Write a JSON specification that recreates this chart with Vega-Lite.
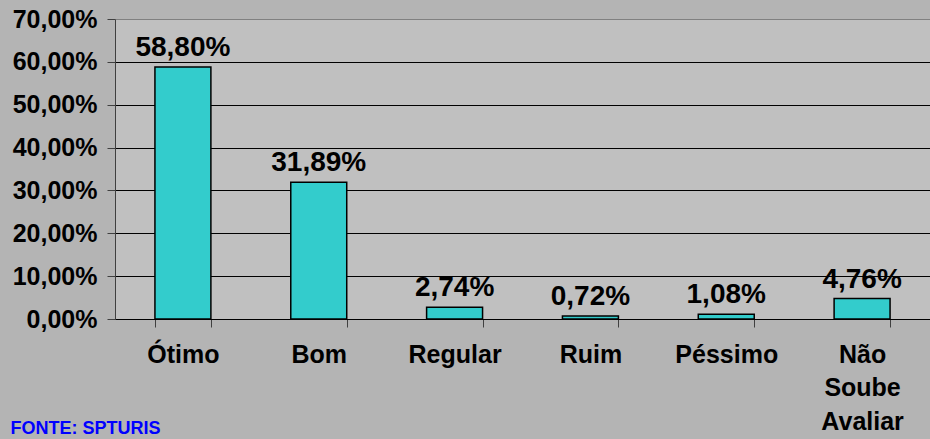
{
  "$schema": "https://vega.github.io/schema/vega-lite/v6.json",
  "width": 815,
  "height": 300,
  "autosize": {"type": "none"},
  "padding": {"left": 115, "top": 19, "right": 0, "bottom": 120},
  "background": "#b4b4b4",
  "config": {
    "locale": {"number": {"decimal": ",", "thousands": ".", "grouping": [3], "currency": ["R$", ""]}},
    "view": {"fill": "#c0c0c0", "stroke": null},
    "font": "Liberation Sans"
  },
  "data": {
    "values": [
      {"categoria": "Ótimo", "valor": 0.588},
      {"categoria": "Bom", "valor": 0.3189},
      {"categoria": "Regular", "valor": 0.0274},
      {"categoria": "Ruim", "valor": 0.0072},
      {"categoria": "Péssimo", "valor": 0.0108},
      {"categoria": "Não Soube Avaliar", "valor": 0.0476}
    ]
  },
  "encoding": {
    "x": {
      "field": "categoria",
      "type": "nominal",
      "sort": null,
      "scale": {"paddingInner": 0.588, "paddingOuter": 0.294},
      "axis": {
        "labelAngle": 0,
        "labelFontSize": 25,
        "labelFontWeight": "bold",
        "labelColor": "black",
        "labelLineHeight": 33.5,
        "labelPadding": 15,
        "labelExpr": "datum.label == 'Não Soube Avaliar' ? ['Não', 'Soube', 'Avaliar'] : datum.label",
        "tickBand": "extent",
        "tickSize": 8,
        "tickColor": "#404040",
        "domainColor": "black",
        "grid": false,
        "title": "FONTE: SPTURIS",
        "titleColor": "#0000FF",
        "titleFontSize": 18,
        "titleFontWeight": "bold",
        "titleX": -105,
        "titleY": 114,
        "titleAlign": "left",
        "titleBaseline": "alphabetic"
      }
    }
  },
  "layer": [
    {
      "mark": {"type": "bar", "fill": "#33CCCC", "stroke": "black", "strokeWidth": 1.5},
      "encoding": {
        "y": {
          "field": "valor",
          "type": "quantitative",
          "scale": {"domain": [0, 0.7]},
          "axis": {
            "values": [0, 0.1, 0.2, 0.3, 0.4, 0.5, 0.6, 0.7],
            "format": ".2%",
            "labelFontSize": 25,
            "labelFontWeight": "bold",
            "labelColor": "black",
            "labelPadding": 10,
            "tickSize": 8,
            "tickColor": "#404040",
            "domainColor": "#404040",
            "grid": true,
            "gridColor": {"condition": {"test": "datum.value >= 0.69", "value": "#808080"}, "value": "black"},
            "gridOpacity": 1,
            "title": null
          }
        }
      }
    },
    {
      "mark": {"type": "text", "baseline": "alphabetic", "dy": -11, "fontSize": 28, "fontWeight": "bold", "color": "black"},
      "encoding": {
        "y": {"field": "valor", "type": "quantitative"},
        "text": {"field": "valor", "type": "quantitative", "format": ".2%"}
      }
    }
  ]
}
